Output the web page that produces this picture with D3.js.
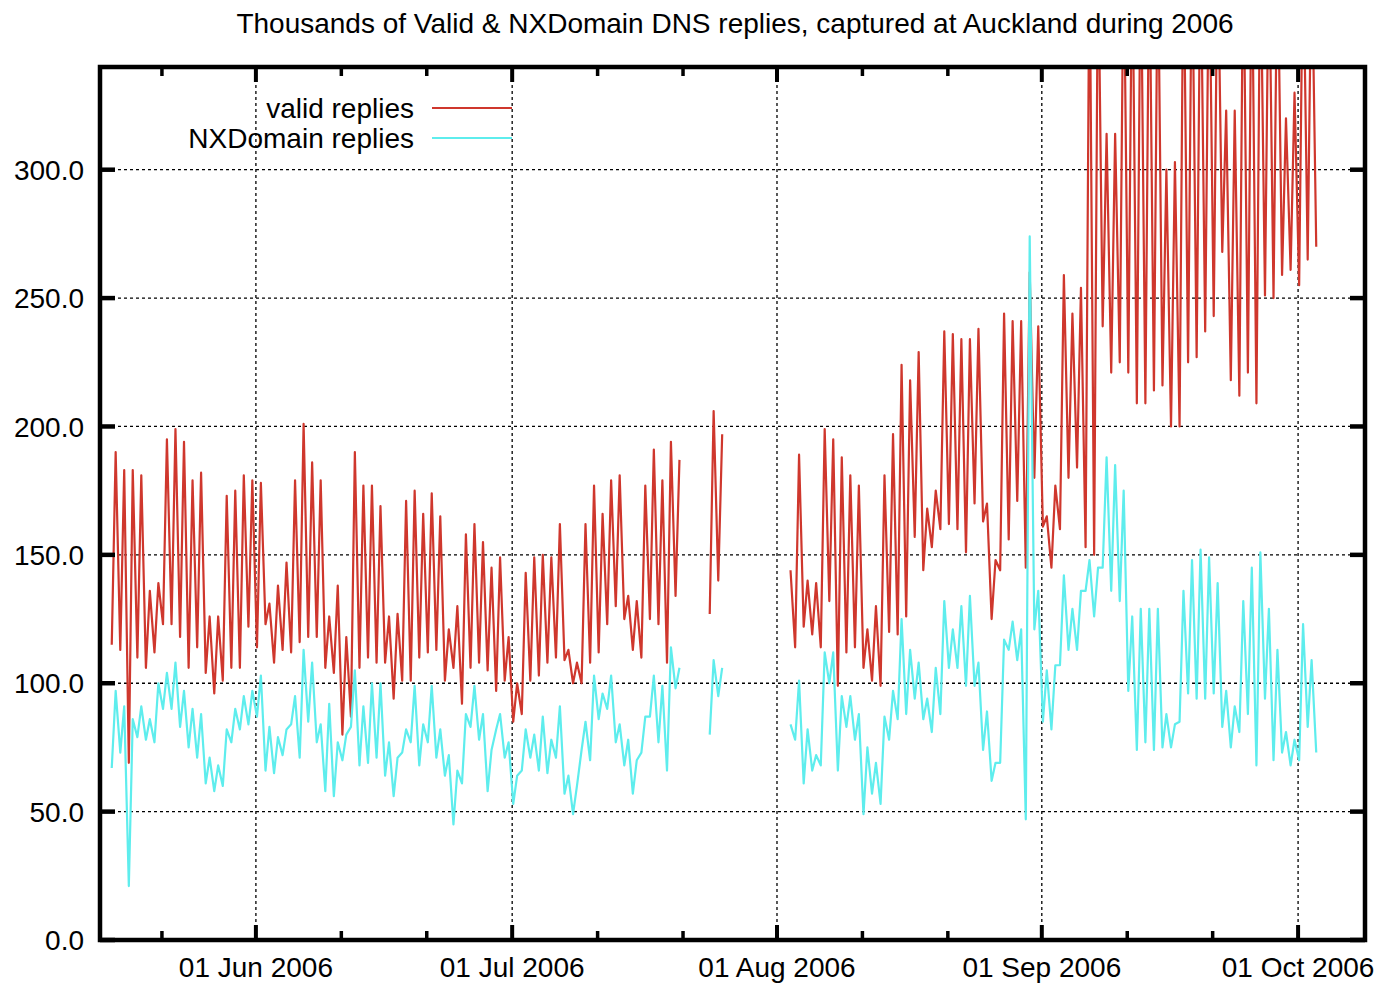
<!DOCTYPE html>
<html>
<head>
<meta charset="utf-8">
<script src="https://cdn.jsdelivr.net/npm/d3@7"></script>
<style>
  body { margin: 0; background: #fff; }
  text { font-family: "Liberation Sans", Arial, sans-serif; fill: #000; }
</style>
</head>
<body>
<div id="chart"></div>
<script>
const title = "Thousands of Valid & NXDomain DNS replies, captured at Auckland during 2006";
const seriesNames = ["valid replies", "NXDomain replies"];
const seriesColors = ["#cf372d", "#5eeded"];

// day 0 = 14 May 2006; each day has a night trough (~03:00) and a day peak (~14:00)
const firstDay = Date.UTC(2006, 4, 14);

const validLow = [
  null,115,113,69,110,106,112,123,123,118,
  106,114,104,96,101,106,106,122,114,123,
  108,113,112,116,118,118,106,104,80,87,
  106,110,108,108,94,101,101,110,112,113,
  101,106,92,106,108,105,97,101,85,88,
  101,103,108,110,109,100,100,108,112,123,
  130,125,113,110,125,123,108,134,null,null,
  null,127,140,null,null,null,null,null,null,null,
  null,114,122,119,114,132,99,112,114,106,
  101,99,120,119,126,157,144,153,160,162,
  160,151,170,163,125,144,156,171,145,180,
  161,145,160,180,184,153,150,239,221,225,
  221,209,209,214,216,200,200,225,227,237,
  243,268,218,212,221,209,251,250,259,261,
  255,265,270
];
const validHigh = [
  null,190,183,183,181,136,139,195,199,194,
  179,182,126,126,173,175,181,179,178,131,
  138,147,179,201,186,179,126,138,118,190,
  177,177,169,126,127,171,175,166,174,165,
  121,130,158,162,155,145,149,118,100,143,
  149,150,149,162,113,108,162,177,166,179,
  181,134,132,177,191,179,194,187,null,null,
  null,206,197,null,null,null,null,null,null,null,
  144,189,140,139,199,195,188,181,177,121,
  130,181,197,224,218,229,168,175,237,236,
  234,234,238,170,148,244,241,241,260,239,
  165,177,259,244,254,390,390,314,314,390,
  390,390,390,390,300,303,390,390,390,390,
  390,323,323,390,390,390,390,390,320,330,
  390,390,null
];
const nxLow = [
  null,67,73,21,79,78,77,90,90,83,
  75,71,61,58,60,77,82,84,87,66,
  65,72,84,71,85,77,58,56,70,83,
  68,69,71,64,56,73,77,68,77,71,
  64,45,61,83,78,58,82,71,53,66,
  71,66,65,71,57,49,74,70,86,90,
  77,68,57,73,87,77,66,98,null,null,
  null,80,95,null,null,null,null,null,null,null,
  null,78,61,66,68,100,66,83,78,49,
  57,53,78,86,88,94,86,81,88,106,
  106,99,99,74,62,69,113,109,47,121,
  85,82,107,113,113,136,126,145,136,132,
  97,74,77,74,75,75,85,96,94,94,
  96,83,75,81,88,68,94,70,73,68,
  70,83,73
];
const nxHigh = [
  null,97,91,86,91,86,100,104,108,97,
  90,88,71,68,82,90,95,97,103,83,
  79,82,95,113,108,84,92,77,80,105,
  91,100,100,77,71,82,99,84,99,82,
  72,66,88,99,88,74,88,77,64,82,
  80,87,78,91,64,60,85,103,96,103,
  84,78,70,87,103,99,114,106,null,null,
  null,109,106,null,null,null,null,null,null,null,
  84,101,82,72,112,112,95,95,88,75,
  69,87,97,125,113,108,94,106,132,121,
  130,134,108,89,69,117,124,121,274,136,
  105,107,142,129,136,148,145,188,185,175,
  126,129,129,129,88,84,136,148,152,149,
  139,97,91,132,145,151,129,113,81,78,
  123,109,null
];

const yTicks = [0, 50, 100, 150, 200, 250, 300];
const monthTicks = [
  Date.UTC(2006, 5, 1), Date.UTC(2006, 6, 1), Date.UTC(2006, 7, 1),
  Date.UTC(2006, 8, 1), Date.UTC(2006, 9, 1)
];
const minorTicks = [
  Date.UTC(2006, 4, 21), Date.UTC(2006, 5, 11), Date.UTC(2006, 5, 21),
  Date.UTC(2006, 6, 11), Date.UTC(2006, 6, 21), Date.UTC(2006, 7, 11),
  Date.UTC(2006, 7, 21), Date.UTC(2006, 8, 11), Date.UTC(2006, 8, 21)
];

const width = 1380, height = 983;
const plot = {left: 100, right: 1365, top: 67, bottom: 940};

const svg = d3.select("#chart")
  .append("svg")
  .attr("width", width)
  .attr("height", height);

const x = d3.scaleUtc()
  .domain([Date.UTC(2006, 4, 13, 18), Date.UTC(2006, 9, 8, 20)])
  .range([plot.left, plot.right]);

const y = d3.scaleLinear()
  .domain([0, 340])
  .range([plot.bottom, plot.top]);

function toPoints(low, high) {
  const pts = [];
  low.forEach((v, i) => {
    const day = firstDay + i * 864e5;
    pts.push({t: new Date(day + 3 * 36e5), v: v});
    pts.push({t: new Date(day + 14 * 36e5), v: high[i]});
  });
  return pts;
}

// grid
const grid = svg.append("g")
  .attr("stroke", "#000")
  .attr("stroke-width", 1.3)
  .attr("stroke-dasharray", "3,3");

grid.selectAll("line.h")
  .data(yTicks.filter(d => d > 0))
  .enter()
  .append("line")
  .attr("x1", plot.left).attr("x2", plot.right)
  .attr("y1", d => y(d)).attr("y2", d => y(d));

grid.selectAll("line.v")
  .data(monthTicks)
  .enter()
  .append("line")
  .attr("x1", d => x(d)).attr("x2", d => x(d))
  .attr("y1", plot.top).attr("y2", plot.bottom);

// data
svg.append("clipPath")
  .attr("id", "clip")
  .append("rect")
  .attr("x", plot.left).attr("y", plot.top)
  .attr("width", plot.right - plot.left)
  .attr("height", plot.bottom - plot.top);

const line = d3.line()
  .defined(d => d.v != null)
  .x(d => x(d.t))
  .y(d => y(d.v));

const series = [toPoints(validLow, validHigh), toPoints(nxLow, nxHigh)];

svg.append("g")
  .attr("clip-path", "url(#clip)")
  .selectAll("path")
  .data(series)
  .enter()
  .append("path")
  .attr("d", d => line(d))
  .attr("fill", "none")
  .attr("stroke", (d, i) => seriesColors[i])
  .attr("stroke-width", 2.2)
  .attr("stroke-linejoin", "round");

// frame and ticks
svg.append("rect")
  .attr("x", plot.left).attr("y", plot.top)
  .attr("width", plot.right - plot.left)
  .attr("height", plot.bottom - plot.top)
  .attr("fill", "none")
  .attr("stroke", "#000")
  .attr("stroke-width", 4.5);

const ticks = svg.append("g").attr("stroke", "#000");

yTicks.forEach(v => {
  ticks.append("line").attr("stroke-width", 4.5)
    .attr("x1", plot.left).attr("x2", plot.left + 15)
    .attr("y1", y(v)).attr("y2", y(v));
  ticks.append("line").attr("stroke-width", 4.5)
    .attr("x1", plot.right).attr("x2", plot.right - 15)
    .attr("y1", y(v)).attr("y2", y(v));
});

monthTicks.forEach(t => {
  ticks.append("line").attr("stroke-width", 4)
    .attr("x1", x(t)).attr("x2", x(t))
    .attr("y1", plot.bottom).attr("y2", plot.bottom - 15);
  ticks.append("line").attr("stroke-width", 4)
    .attr("x1", x(t)).attr("x2", x(t))
    .attr("y1", plot.top).attr("y2", plot.top + 15);
});

minorTicks.forEach(t => {
  ticks.append("line").attr("stroke-width", 3.5)
    .attr("x1", x(t)).attr("x2", x(t))
    .attr("y1", plot.bottom).attr("y2", plot.bottom - 9);
  ticks.append("line").attr("stroke-width", 3.5)
    .attr("x1", x(t)).attr("x2", x(t))
    .attr("y1", plot.top).attr("y2", plot.top + 9);
});

// labels
svg.selectAll("text.ylab")
  .data(yTicks)
  .enter()
  .append("text")
  .attr("x", 84)
  .attr("y", d => y(d))
  .attr("dy", "0.36em")
  .attr("text-anchor", "end")
  .style("font-size", "28px")
  .text(d3.format(".1f"));

svg.selectAll("text.xlab")
  .data(monthTicks)
  .enter()
  .append("text")
  .attr("x", d => x(d))
  .attr("y", 977)
  .attr("text-anchor", "middle")
  .style("font-size", "28px")
  .text(d => d3.utcFormat("%d %b %Y")(new Date(d)));

svg.append("text")
  .attr("x", 735)
  .attr("y", 33)
  .attr("text-anchor", "middle")
  .style("font-size", "28px")
  .text(title);

// legend
const legend = svg.append("g");
seriesNames.forEach((name, i) => {
  const ly = 108 + i * 30;
  legend.append("text")
    .attr("x", 414).attr("y", ly).attr("dy", "0.36em")
    .attr("text-anchor", "end")
    .style("font-size", "28px")
    .text(name);
  legend.append("line")
    .attr("x1", 432).attr("x2", 512)
    .attr("y1", ly).attr("y2", ly)
    .attr("stroke", seriesColors[i])
    .attr("stroke-width", 2.2);
});
</script>
</body>
</html>
